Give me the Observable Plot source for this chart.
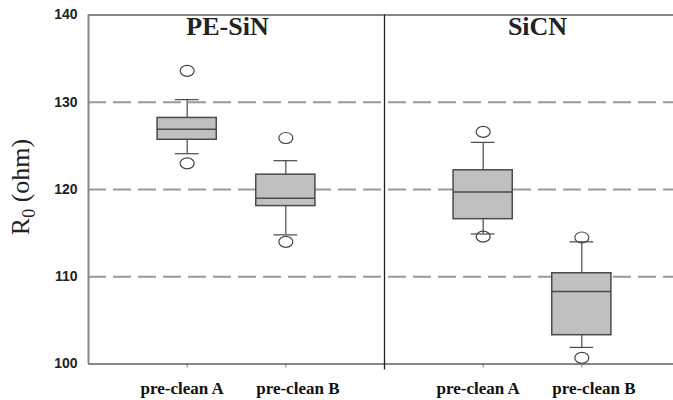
<!DOCTYPE html>
<html>
<head>
<meta charset="utf-8">
<script src="https://cdn.jsdelivr.net/npm/d3@7"></script>
<script src="https://cdn.jsdelivr.net/npm/@observablehq/plot@0.6"></script>
<style>
  html, body { margin: 0; padding: 0; background: white; }
  #chart { width: 673px; height: 400px; overflow: hidden; }
</style>
</head>
<body>
<div id="chart"></div>
<script>
// Sheet resistance R0 by dielectric cap and pre-clean treatment
const materials   = ["PE-SiN", "PE-SiN", "SiCN", "SiCN"];
const treatments  = ["pre-clean A", "pre-clean B", "pre-clean A", "pre-clean B"];
const slots       = [1, 2, 4, 5];
const whiskerLow  = [124.1, 114.8, 114.9, 101.9];
const q1          = [125.7, 118.1, 116.6, 103.3];
const median      = [126.9, 119.0, 119.7, 108.3];
const q3          = [128.2, 121.7, 122.2, 110.4];
const whiskerHigh = [130.3, 123.3, 125.4, 114.0];
const outlierLow  = [123.0, 114.0, 114.6, 100.7];
const outlierHigh = [133.6, 125.9, 126.6, 114.5];

const yTicks    = [100, 110, 120, 130, 140];
const gridLines = [110, 120, 130];
const panels    = ["PE-SiN", "SiCN"];
const dividerAt = 3;

const boxes = slots.map((s, i) => ({
  slot: s, material: materials[i], treatment: treatments[i],
  lo: whiskerLow[i], q1: q1[i], med: median[i], q3: q3[i], hi: whiskerHigh[i]
}));
const outliers = slots.flatMap((s, i) => [
  {slot: s, value: outlierLow[i]},
  {slot: s, value: outlierHigh[i]}
]);
const panelRows = panels.map(p => ({
  name: p,
  center: d3.mean(boxes.filter(b => b.material === p), b => b.slot)
}));
const labelBySlot = new Map(boxes.map(b => [b.slot, b.treatment]));
const slotsA = boxes.filter(b => b.treatment === "pre-clean A").map(b => b.slot);
const slotsB = boxes.filter(b => b.treatment === "pre-clean B").map(b => b.slot);

const boxHalf = 0.3;
const capHalf = 0.12;

// open oval used for the outlier markers
const oval = {
  draw(ctx) {
    const rx = 7, ry = 5.5, k = 0.5523;
    ctx.moveTo(rx, 0);
    ctx.bezierCurveTo(rx, ry * k, rx * k, ry, 0, ry);
    ctx.bezierCurveTo(-rx * k, ry, -rx, ry * k, -rx, 0);
    ctx.bezierCurveTo(-rx, -ry * k, -rx * k, -ry, 0, -ry);
    ctx.bezierCurveTo(rx * k, -ry, rx, -ry * k, rx, 0);
    ctx.closePath();
  }
};

const boxStroke = "#4a4a4a";
const serif = "Liberation Serif, Times New Roman, serif";
const labelStyle = {fontSize: 17, fontWeight: "bold", fontFamily: serif, fill: "#111"};
const titleStyle = {y: 140, text: "name", dy: 12, lineAnchor: "middle",
  fontSize: 26, fontWeight: "bold", fontFamily: serif, fill: "#222"};

const svg = Plot.plot({
  width: 673,
  height: 400,
  marginTop: 14.5,
  marginBottom: 36.5,
  marginLeft: 88,
  marginRight: 0,
  style: {background: "white", overflow: "hidden"},
  x: {domain: [0, 6], range: [88, 680]},
  y: {domain: [100, 140]},
  marks: [
    Plot.ruleY(gridLines, {stroke: "#999", strokeWidth: 2, strokeDasharray: "18,7"}),
    Plot.ruleY([100, 140], {stroke: "#888", strokeWidth: 2}),
    Plot.ruleX([0], {y1: 100, y2: 140, stroke: "#888", strokeWidth: 2}),
    Plot.ruleX([dividerAt], {y1: 99.3, y2: 140, stroke: "#222", strokeWidth: 1.3}),
    // whiskers and caps
    Plot.ruleX(boxes, {x: "slot", y1: "lo", y2: "q1", stroke: boxStroke, strokeWidth: 1.2}),
    Plot.ruleX(boxes, {x: "slot", y1: "q3", y2: "hi", stroke: boxStroke, strokeWidth: 1.2}),
    Plot.ruleY(boxes, {y: "lo", x1: d => d.slot - capHalf, x2: d => d.slot + capHalf, stroke: boxStroke, strokeWidth: 1.2}),
    Plot.ruleY(boxes, {y: "hi", x1: d => d.slot - capHalf, x2: d => d.slot + capHalf, stroke: boxStroke, strokeWidth: 1.2}),
    // interquartile boxes and medians
    Plot.rect(boxes, {x1: d => d.slot - boxHalf, x2: d => d.slot + boxHalf, y1: "q1", y2: "q3",
      fill: "#c0c0c0", stroke: boxStroke, strokeWidth: 1.5}),
    Plot.ruleY(boxes, {y: "med", x1: d => d.slot - boxHalf, x2: d => d.slot + boxHalf, stroke: boxStroke, strokeWidth: 1.5}),
    Plot.dot(outliers, {x: "slot", y: "value", symbol: oval, fill: "none", stroke: "#444", strokeWidth: 1.2}),
    // panel titles
    Plot.text(panelRows.slice(0, 1), {x: "center", dx: -9, ...titleStyle}),
    Plot.text(panelRows.slice(1), {x: "center", dx: 5, ...titleStyle}),
    Plot.axisY({ticks: yTicks, tickSize: 0, tickPadding: 11, label: null,
      fontSize: 14, fontWeight: "bold", fontFamily: "Liberation Sans, Arial, sans-serif", fill: "#222"}),
    Plot.axisX({ticks: slots, tickSize: 4, tickFormat: null, label: null, stroke: "#777", text: null}),
    Plot.axisX({ticks: slotsA, tickFormat: d => labelBySlot.get(d), tickSize: 0, tickPadding: 18, dx: -5,
      label: null, ...labelStyle}),
    Plot.axisX({ticks: slotsB, tickFormat: d => labelBySlot.get(d), tickSize: 0, tickPadding: 18, dx: 12,
      label: null, ...labelStyle})
  ]
});

// y-axis title with subscript
const title = d3.select(svg).append("text")
  .attr("transform", "translate(29,187) rotate(-90)")
  .attr("text-anchor", "middle")
  .attr("font-family", serif)
  .attr("font-size", 26)
  .attr("fill", "#222");
title.append("tspan").text("R");
title.append("tspan").attr("dy", 6).attr("font-size", 18).text("0");
title.append("tspan").attr("dy", -6).text(" (ohm)");

document.getElementById("chart").appendChild(svg);
</script>
</body>
</html>
